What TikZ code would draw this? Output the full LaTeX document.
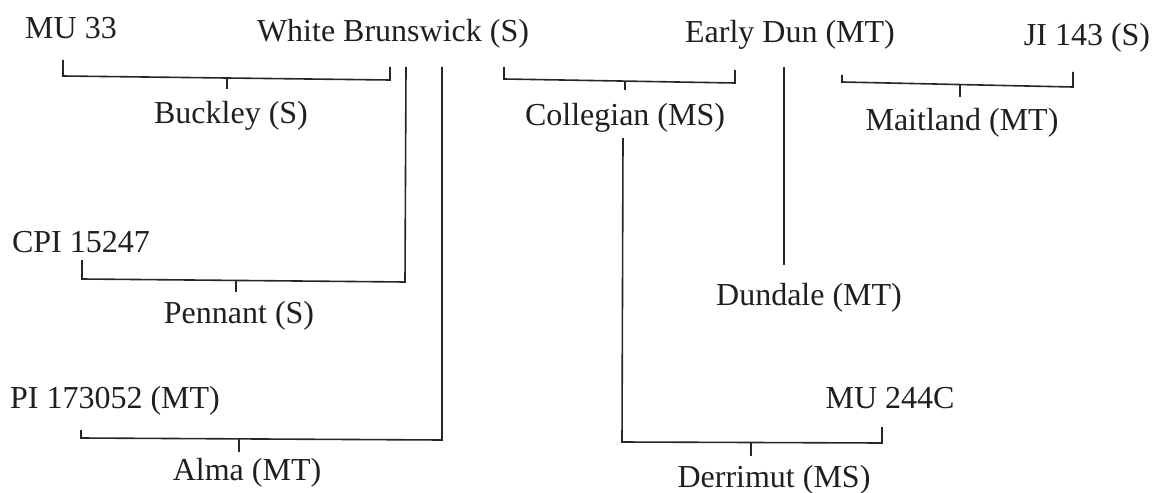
\documentclass[tikz,border=0pt]{standalone}
\usepackage{fontspec}
\setmainfont{Liberation Serif}
\begin{document}
\begin{tikzpicture}[x=1pt,y=-1pt,
  lbl/.style={anchor=base,inner sep=0pt,font=\fontsize{32}{38}\selectfont,text=black!88},
  link/.style={line width=1.6pt,draw=black!85,line join=miter}]
\useasboundingbox (0,0) rectangle (1155,492);
% texts
\node[lbl] (mu33) at (71,39) {MU 33};
\node[lbl] (wb) at (393,42) {White Brunswick (S)};
\node[lbl] (ed) at (790,43) {Early Dun (MT)};
\node[lbl] (ji) at (1087,46) {JI 143 (S)};
\node[lbl] (buckley) at (231,123) {Buckley (S)};
\node[lbl] (collegian) at (625,125) {Collegian (MS)};
\node[lbl] (maitland) at (962,130) {Maitland (MT)};
\node[lbl] (cpi) at (81,252) {CPI 15247};
\node[lbl] (pennant) at (239,323) {Pennant (S)};
\node[lbl] (dundale) at (809,305) {Dundale (MT)};
\node[lbl] (pi) at (115,408) {PI 173052 (MT)};
\node[lbl] (mu244) at (890,408) {MU 244C};
\node[lbl] (alma) at (247,480) {Alma (MT)};
\node[lbl] (derrimut) at (774,487) {Derrimut (MS)};
% bracket points
\coordinate (bkL) at (63,60);   \coordinate (bkR) at (390,67);
\coordinate (bkT) at (227,89);
\coordinate (pnL) at (82,260);  \coordinate (pnR) at (406,67);
\coordinate (pnT) at (236,292);
\coordinate (alL) at (81,430);  \coordinate (alR) at (442,67);
\coordinate (alT) at (239,452);
\coordinate (coL) at (504,67);  \coordinate (coR) at (735,70);
\coordinate (coT) at (625,90);
\coordinate (drL) at (623,138); \coordinate (drR) at (882,427);
\coordinate (drT) at (751,456);
\coordinate (edT) at (784,67);  \coordinate (edB) at (784,265);
\coordinate (maL) at (842,75);  \coordinate (maR) at (1073,72);
\coordinate (maT) at (960,97);
% Buckley
\draw[link] (bkL) -- (63,76) -- (390,80) -- (bkR);
\draw[link] (227,78) -- (bkT);
% Pennant
\draw[link] (pnL) -- (82,279) -- (405,282) -- (pnR);
\draw[link] (236,281) -- (pnT);
% Alma
\draw[link] (alL) -- (81,438) -- (442,440) -- (alR);
\draw[link] (239,439) -- (alT);
% Collegian
\draw[link] (coL) -- (504,79) -- (735,83) -- (coR);
\draw[link] (625,81) -- (coT);
% Derrimut
\draw[link] (drL) -- (622,442) -- (882,443) -- (drR);
\draw[link] (751,443) -- (drT);
% Dundale
\draw[link] (edT) -- (edB);
% Maitland
\draw[link] (maL) -- (842,82) -- (1073,87) -- (maR);
\draw[link] (960,85) -- (maT);
\end{tikzpicture}
\end{document}
